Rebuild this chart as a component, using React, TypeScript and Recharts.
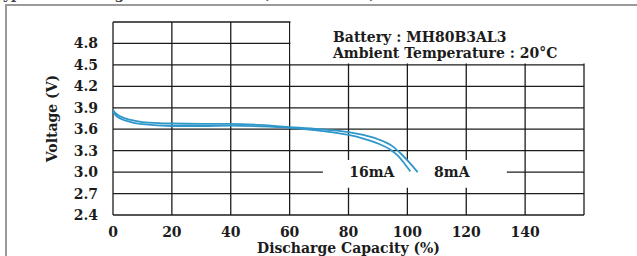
import { LineChart, Line, XAxis, YAxis, CartesianGrid, ReferenceArea, ReferenceDot } from "recharts";

const xTicks = [0, 20, 40, 60, 80, 100, 120, 140, 160];
const yTicks = [2.4, 2.7, 3.0, 3.3, 3.6, 3.9, 4.2, 4.5, 4.8, 5.1];

// discharge capacity (%) vs voltage (V)
const capacity16mA = [0, 1, 3, 6, 10, 20, 30, 40, 50, 60, 70, 80, 85, 90, 94, 97, 99, 101];
const voltage16mA = [3.84, 3.79, 3.74, 3.70, 3.67, 3.645, 3.645, 3.65, 3.64, 3.62, 3.58, 3.52, 3.47, 3.40, 3.32, 3.22, 3.12, 3.01];

const capacity8mA = [0, 1, 3, 6, 10, 20, 30, 40, 50, 60, 70, 80, 85, 90, 95, 98, 101, 103.5];
const voltage8mA = [3.87, 3.82, 3.77, 3.73, 3.70, 3.68, 3.675, 3.675, 3.66, 3.63, 3.60, 3.56, 3.52, 3.46, 3.36, 3.25, 3.12, 3.0];

const curveLabels = ["16mA", "8mA"];

const series16 = capacity16mA.map((x, i) => ({ x, v: voltage16mA[i] }));
const series8 = capacity8mA.map((x, i) => ({ x, v: voltage8mA[i] }));

const FONT = "'DejaVu Serif', 'Liberation Serif', serif";
const BLUE = "#2f97c9";
const INK = "#1c1c1c";

const tickStyle = { fill: INK, fontSize: 14, fontWeight: 700, fontFamily: FONT };

export default function App() {
  return (
    <div style={{ position: "absolute", left: 0, top: 0, width: 637, height: 256, background: "#fff", overflow: "hidden" }}>
      <div
        style={{
          position: "absolute",
          left: -6,
          top: -14,
          fontFamily: FONT,
          fontWeight: 700,
          fontSize: 14,
          color: "#444",
          whiteSpace: "nowrap",
        }}
      >
        Typical Discharge Characteristics (MH80B3AL3)
      </div>
      <div style={{ position: "absolute", left: 0, top: 0 }}>
        <LineChart width={637} height={256} margin={{ top: 22, right: 53, bottom: 0, left: 0 }}>
          <CartesianGrid stroke={INK} strokeWidth={1.3} />
          <XAxis
            type="number"
            dataKey="x"
            domain={[0, 160]}
            ticks={xTicks}
            tickFormatter={(v: number) => (v === 160 ? "" : String(v))}
            axisLine={false}
            tickLine={false}
            tickSize={0}
            tickMargin={12}
            height={41}
            tick={tickStyle}
            interval={0}
            label={{
              value: "Discharge Capacity (%)",
              position: "insideBottom",
              offset: 3,
              style: { fill: INK, fontSize: 14, fontWeight: 700, fontFamily: FONT },
            }}
          />
          <YAxis
            type="number"
            domain={[2.4, 5.1]}
            ticks={yTicks}
            tickFormatter={(v: number) => (v > 5 ? "" : v.toFixed(1))}
            axisLine={false}
            tickLine={false}
            tickSize={0}
            tickMargin={15}
            width={113}
            tick={tickStyle}
            interval={0}
            label={{
              value: "Voltage (V)",
              angle: -90,
              position: "center",
              dx: -4,
              style: { fill: INK, fontSize: 14, fontWeight: 700, fontFamily: FONT },
            }}
          />
          <ReferenceArea x1={60.3} x2={161} y1={4.52} y2={5.13} ifOverflow="visible" fill="#fff" fillOpacity={1} stroke="none" />
          <ReferenceArea x1={71.3} x2={133.8} y1={2.78} y2={3.17} fill="#fff" fillOpacity={1} stroke="none" />
          <Line data={series16} dataKey="v" type="monotone" stroke={BLUE} strokeWidth={1.8} dot={false} isAnimationActive={false} />
          <Line data={series8} dataKey="v" type="monotone" stroke={BLUE} strokeWidth={1.8} dot={false} isAnimationActive={false} />
          <ReferenceDot
            x={87.9}
            y={3.0}
            r={0}
            fill="none"
            stroke="none"
            label={{ value: curveLabels[0], position: "center", style: { fill: INK, fontSize: 14, fontWeight: 700, fontFamily: FONT } }}
          />
          <ReferenceDot
            x={115.1}
            y={3.0}
            r={0}
            fill="none"
            stroke="none"
            label={{ value: curveLabels[1], position: "center", style: { fill: INK, fontSize: 14, fontWeight: 700, fontFamily: FONT } }}
          />
        </LineChart>
      </div>
      <div
        style={{
          position: "absolute",
          left: 5,
          top: 4,
          width: 640,
          height: 260,
          borderTop: "2px solid #9a9a9a",
          borderLeft: "2px solid #9a9a9a",
          pointerEvents: "none",
        }}
      />
      <div
        style={{
          position: "absolute",
          left: 333,
          top: 29,
          fontFamily: FONT,
          fontWeight: 700,
          fontSize: 14,
          lineHeight: "16px",
          color: INK,
          whiteSpace: "nowrap",
        }}
      >
        <div>Battery : MH80B3AL3</div>
        <div>Ambient Temperature : 20°C</div>
      </div>
    </div>
  );
}
